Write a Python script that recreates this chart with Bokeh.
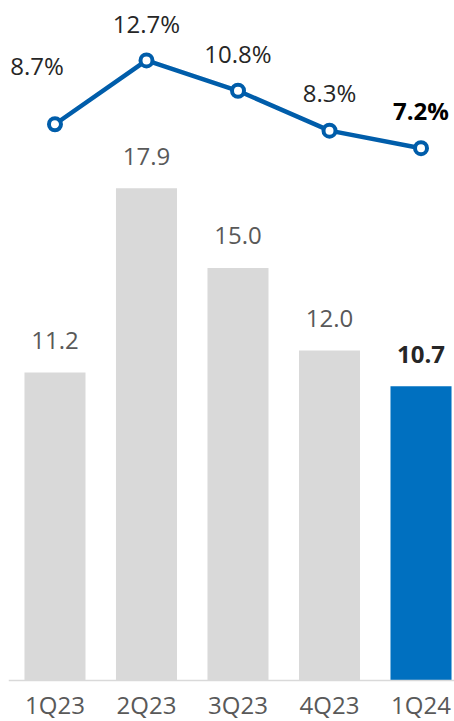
from bokeh.plotting import figure
from bokeh.models import ColumnDataSource, Range1d, Span
from bokeh.embed import file_html
from bokeh.resources import INLINE
from bokeh.core.properties import value

quarters = ["1Q23", "2Q23", "3Q23", "4Q23", "1Q24"]
revenue = [11.2, 17.9, 15.0, 12.0, 10.7]
margin_pct = [8.7, 12.7, 10.8, 8.3, 7.2]

FONT = "Open Sans"
GRAY_BAR = "#D9D9D9"
BLUE_BAR = "#0070C0"
LINE_BLUE = "#005DAA"

n = len(quarters)
xs = list(range(n))
bar_colors = [GRAY_BAR] * (n - 1) + [BLUE_BAR]
bar_lbl_colors = ["#595959"] * (n - 1) + ["#262626"]
styles = ["normal"] * (n - 1) + ["bold"]
pct_colors = ["#262626"] * (n - 1) + ["#000000"]
pct_xoff = [-18, 0, 0, 0, 0]
pct_yoff = [-59, -37, -37, -38, -38]

src = ColumnDataSource(dict(
    x=xs, zero=[0] * n, rev=revenue, m=margin_pct, q=quarters,
    rev_lbl=[f"{v:.1f}" for v in revenue],
    m_lbl=[f"{v:.1f}%" for v in margin_pct],
    bar_color=bar_colors, bar_lbl_color=bar_lbl_colors, style=styles,
    pct_color=pct_colors, pct_xoff=pct_xoff, pct_yoff=pct_yoff,
))

p = figure(width=454, height=721, output_backend="svg", toolbar_location=None,
           x_range=Range1d(-0.508, 4.366), y_range=Range1d(-1.491, 24.727),
           min_border_left=8, min_border_right=0, min_border_top=0, min_border_bottom=0)
p.outline_line_color = None
p.grid.visible = False
p.axis.visible = False
p.background_fill_color = "white"
p.border_fill_color = "white"

p.extra_y_ranges = {"pct": Range1d(-28.75, 16.46)}

p.vbar(x="x", top="rev", bottom=0, width=0.667, fill_color="bar_color",
       line_color=None, source=src)

# baseline (category axis line)
p.add_layout(Span(location=0, dimension="width", line_color=GRAY_BAR, line_width=1.5))

# category labels
p.text(x="x", y="zero", text="q", source=src, y_offset=24,
       text_align="center", text_baseline="alphabetic",
       text_font=value(FONT), text_font_size="24px", text_color="#595959")

p.text(x="x", y="rev", text="rev_lbl", source=src, y_offset=-32,
       text_align="center", text_baseline="alphabetic",
       text_font=value(FONT), text_font_size="24px",
       text_color="bar_lbl_color", text_font_style="style")

p.line(x="x", y="m", source=src, y_range_name="pct",
       line_color=LINE_BLUE, line_width=4.5)
p.scatter(x="x", y="m", source=src, y_range_name="pct", marker="circle",
          size=12, fill_color="white", line_color=LINE_BLUE, line_width=4)

p.text(x="x", y="m", text="m_lbl", source=src, y_range_name="pct",
       x_offset="pct_xoff", y_offset="pct_yoff",
       text_align="center", text_baseline="alphabetic",
       text_font=value(FONT), text_font_size="24px",
       text_color="pct_color", text_font_style="style")

open("out.html", "w").write(file_html(p, INLINE))
